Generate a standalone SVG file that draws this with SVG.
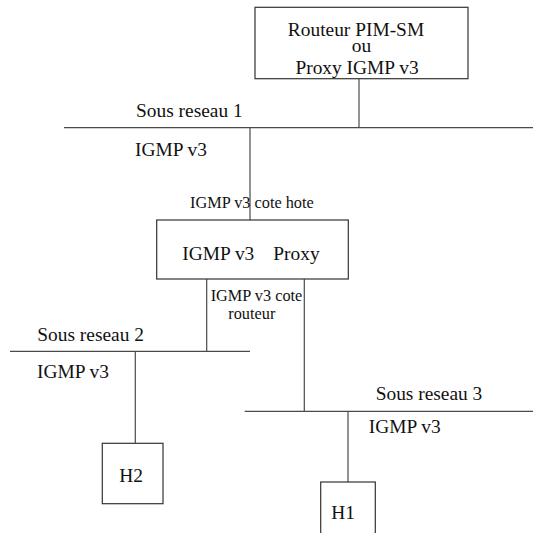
<svg xmlns="http://www.w3.org/2000/svg" width="533" height="533" viewBox="0 0 533 533">
<style>
text{font-family:"Liberation Serif","Times New Roman",serif;fill:#111}
.big{font-size:19.4px}
.small{font-size:16.3px}
.box{fill:#fff;stroke:#333;stroke-width:1.2}
.ln{stroke:#4a4a4a;stroke-width:1.2;fill:none}
</style>
<rect width="533" height="533" fill="#fff"/>
<g id="connectors">
<line class="ln" x1="359" y1="78.7" x2="359" y2="127.7"/>
<line class="ln" x1="64" y1="127.7" x2="533" y2="127.7"/>
<line class="ln" x1="250" y1="127.7" x2="250" y2="220"/>
<line class="ln" x1="206.7" y1="279" x2="206.7" y2="351.3"/>
<line class="ln" x1="304.3" y1="279" x2="304.3" y2="411.3"/>
<line class="ln" x1="10" y1="351.3" x2="250" y2="351.3"/>
<line class="ln" x1="135.3" y1="351.3" x2="135.3" y2="443.3"/>
<line class="ln" x1="244.7" y1="411.3" x2="533" y2="411.3"/>
<line class="ln" x1="348" y1="411.3" x2="348" y2="482"/>
</g>
<g id="labels">
<text class="big" x="136" y="117.3">Sous reseau 1</text>
<text class="big" x="135" y="156">IGMP v3</text>
<text class="small" x="190" y="208.3">IGMP v3 cote hote</text>
<text class="small" x="210.7" y="301">IGMP v3 cote</text>
<text class="small" x="228.3" y="319">routeur</text>
<text class="big" x="37.3" y="340.7">Sous reseau 2</text>
<text class="big" x="37" y="377.7">IGMP v3</text>
<text class="big" x="375.7" y="400">Sous reseau 3</text>
<text class="big" x="368.7" y="433.3">IGMP v3</text>
</g>
<g id="router">
<rect class="box" x="255" y="7.3" width="213" height="71.4"/>
<text class="big" x="356" y="35.7" text-anchor="middle">Routeur PIM-SM</text>
<text class="big" x="361.5" y="51.7" text-anchor="middle">ou</text>
<text class="big" x="357" y="74" text-anchor="middle">Proxy IGMP v3</text>
</g>
<g id="proxy">
<rect class="box" x="156.7" y="220" width="191.6" height="59"/>
<text class="big" x="182.3" y="260">IGMP v3</text>
<text class="big" x="273.3" y="260">Proxy</text>
</g>
<g id="h2">
<rect class="box" x="102.3" y="443.3" width="60.7" height="60.4"/>
<text class="big" x="131" y="482.3" text-anchor="middle">H2</text>
</g>
<g id="h1">
<rect class="box" x="320.7" y="482" width="54.6" height="70"/>
<text class="big" x="343" y="519" text-anchor="middle">H1</text>
</g>
</svg>
